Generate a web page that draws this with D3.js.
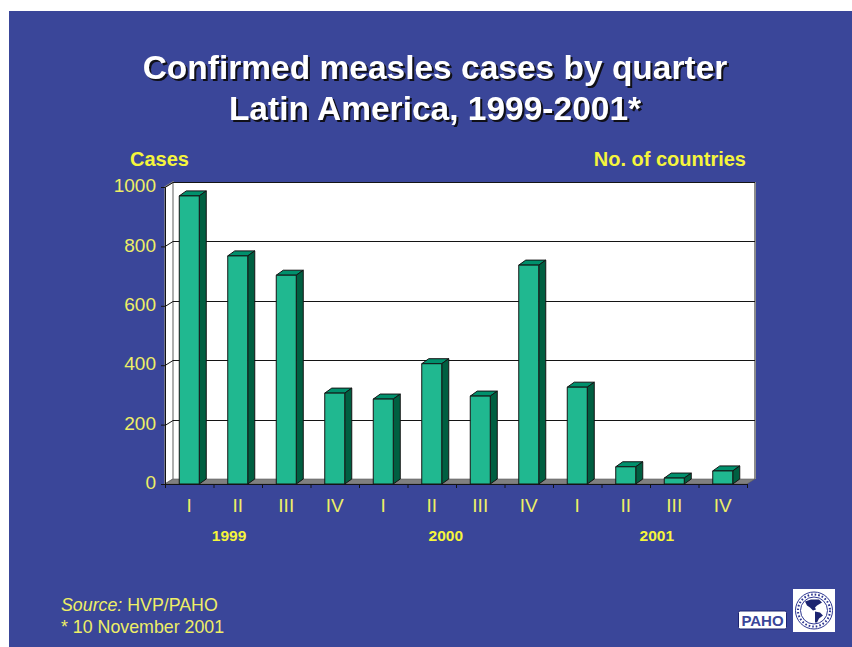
<!DOCTYPE html>
<html>
<head>
<meta charset="utf-8">
<script src="https://cdn.jsdelivr.net/npm/d3@7"></script>
<style>
  html, body { margin: 0; padding: 0; background: #fff; }
  svg { display: block; font-family: "Liberation Sans", Arial, sans-serif; }
</style>
</head>
<body>
<svg id="chart" width="852" height="647"></svg>
<script>
// Measles cases per quarter, read against the front of the value axis
const quarters = ["I", "II", "III", "IV", "I", "II", "III", "IV", "I", "II", "III", "IV"];
const cases = [970, 768, 703, 306, 286, 405, 296, 737, 326, 58, 20, 44];
const yearLabels = ["1999", "2000", "2001"];
const yearCentres = [1.32, 5.79, 10.14];
const valueTicks = [0, 200, 400, 600, 800, 1000];
const titleLines = ["Confirmed measles cases by quarter", "Latin America, 1999-2001*"];

const BG = "#3a4699", YELLOW = "#f5f53c", TICK_YELLOW = "#eeee66";
const FRONT = "#20b890", TOP = "#00906c", SIDE = "#005f41", INK = "#141414";

const svg = d3.select("#chart");

// Slide background
svg.append("rect").attr("x", 9).attr("y", 11).attr("width", 843).attr("height", 636).attr("fill", BG);

const x = d3.scaleBand().domain(d3.range(quarters.length)).range([165, 747]).paddingInner(0).paddingOuter(0);
const y = d3.scaleLinear().domain([0, 1000]).range([484, 187]);

// Depth of the pseudo-3D box and of the bars
const wallDx = 8, wallDy = -5, barDx = 7, barDy = -5;
const barWidth = 20;
const poly = pts => pts.map(p => p.join(",")).join(" ");

const x0 = x.range()[0], x1 = x.range()[1], y0 = y(0), yTop = y(1000);

// Back wall, side wall, floor
svg.append("rect")
  .attr("x", x0 + wallDx).attr("y", yTop + wallDy)
  .attr("width", x1 - x0).attr("height", y0 - yTop)
  .attr("fill", "#fff");
svg.append("polygon")
  .attr("points", poly([[x0, y0], [x0, yTop], [x0 + wallDx, yTop + wallDy], [x0 + wallDx, y0 + wallDy]]))
  .attr("fill", "#fff").attr("stroke", "#8c8c8c").attr("stroke-width", 1.4);
svg.append("polyline")
  .attr("points", poly([[x1 + wallDx, y0 + wallDy], [x1 + wallDx, yTop + wallDy]]))
  .attr("fill", "none").attr("stroke", "#8c8c8c").attr("stroke-width", 2);
svg.append("polygon")
  .attr("points", poly([[x0, y0], [x0 + wallDx, y0 + wallDy], [x1 + wallDx, y0 + wallDy], [x1, y0]]))
  .attr("fill", "#808080").attr("stroke", "#5a5a5a").attr("stroke-width", 0.6);

// Gridlines run along the back wall and fold down the side wall to the axis
const grid = svg.append("g").attr("fill", "none").attr("stroke", INK).attr("stroke-width", 1);
valueTicks.filter(v => v > 0).forEach(v => {
  const py = Math.round(y(v)) + 0.5;
  grid.append("polyline")
    .attr("points", poly([[x0, py], [x0 + wallDx, py + wallDy], [x1 + wallDx, py + wallDy]]));
});

// Value axis
const yAxis = d3.axisLeft(y).tickValues(valueTicks).tickSize(4).tickPadding(5).tickFormat(d3.format("d"));
const yG = svg.append("g").attr("transform", `translate(${x0},0)`).call(yAxis);
yG.select(".domain").attr("stroke", INK);
yG.selectAll(".tick line").attr("stroke", INK);
yG.selectAll(".tick text")
  .attr("fill", TICK_YELLOW).attr("font-size", 19).attr("dy", "0.25em")
  .attr("font-family", "Liberation Sans, Arial, sans-serif");

// Quarter axis: ticks sit on the band edges, labels in the band centres
const edgeScale = d3.scaleLinear().domain([0, quarters.length]).range(x.range());
const xAxis = d3.axisBottom(edgeScale).tickValues(d3.range(quarters.length + 1)).tickSize(4).tickFormat("");
const xG = svg.append("g").attr("transform", `translate(0,${y0})`).call(xAxis);
xG.select(".domain").attr("stroke", INK);
xG.selectAll(".tick line").attr("stroke", INK);

svg.append("g").selectAll("text").data(quarters).join("text")
  .attr("x", (d, i) => x(i) + x.bandwidth() / 2)
  .attr("y", 512)
  .attr("text-anchor", "middle")
  .attr("font-size", 19)
  .attr("fill", TICK_YELLOW)
  .text(d => d);

// Bars: top and side faces behind a front face
const bars = svg.append("g").attr("stroke", INK).attr("stroke-width", 1).attr("stroke-linejoin", "round")
  .selectAll("g").data(cases).join("g");
const left = i => x(i) + (x.bandwidth() - barWidth) / 2;

bars.append("polygon").attr("fill", TOP)
  .attr("points", (d, i) => poly([
    [left(i), y(d)], [left(i) + barDx, y(d) + barDy],
    [left(i) + barWidth + barDx, y(d) + barDy], [left(i) + barWidth, y(d)]
  ]));
bars.append("polygon").attr("fill", SIDE)
  .attr("points", (d, i) => poly([
    [left(i) + barWidth, y(d)], [left(i) + barWidth + barDx, y(d) + barDy],
    [left(i) + barWidth + barDx, y0 + barDy], [left(i) + barWidth, y0]
  ]));
bars.append("rect").attr("fill", FRONT)
  .attr("x", (d, i) => left(i)).attr("y", d => y(d))
  .attr("width", barWidth).attr("height", d => y0 - y(d));

// Title
svg.append("g").style("filter", "drop-shadow(2px 2px 0 #101018)")
  .selectAll("text").data(titleLines).join("text")
  .attr("x", 435)
  .attr("y", (d, i) => 79 + i * 41)
  .attr("text-anchor", "middle")
  .attr("font-size", 33.5)
  .attr("font-weight", "bold")
  .attr("fill", "#fff")
  .text(d => d);

// Axis captions
svg.append("text").attr("x", 130).attr("y", 166).attr("font-size", 20).attr("font-weight", "bold")
  .attr("fill", YELLOW).text("Cases");
svg.append("text").attr("x", 746).attr("y", 166).attr("text-anchor", "end").attr("font-size", 20)
  .attr("font-weight", "bold").attr("fill", YELLOW).text("No. of countries");

// Year captions under the quarters
svg.append("g").selectAll("text").data(yearLabels).join("text")
  .attr("x", (d, i) => x0 + yearCentres[i] * x.step())
  .attr("y", 541)
  .attr("text-anchor", "middle")
  .attr("font-size", 15.5)
  .attr("font-weight", "bold")
  .attr("fill", YELLOW)
  .text(d => d);

// Source note
const note = svg.append("text").attr("x", 61).attr("y", 611).attr("font-size", 17.8).attr("fill", TICK_YELLOW);
note.append("tspan").attr("font-style", "italic").text("Source:");
note.append("tspan").text(" HVP/PAHO");
svg.append("text").attr("x", 61).attr("y", 633).attr("font-size", 17.8).attr("fill", TICK_YELLOW).text("* 10 November 2001");

// Organisation badge and emblem
svg.append("rect").attr("x", 738.5).attr("y", 611).attr("width", 48).attr("height", 18).attr("rx", 1.5)
  .attr("fill", "#fff").attr("stroke", "#1c2470");
svg.append("text").attr("x", 762.5).attr("y", 625.5).attr("text-anchor", "middle").attr("font-size", 15)
  .attr("font-weight", "bold").attr("fill", "#3a4699").text("PAHO");

const emblem = svg.append("g").attr("transform", "translate(814,610.5)");
emblem.append("rect").attr("x", -21).attr("y", -21.5).attr("width", 42).attr("height", 43).attr("fill", "#fff");
emblem.append("circle").attr("r", 18.5).attr("fill", "none").attr("stroke", "#2c3590").attr("stroke-width", 1);
emblem.append("circle").attr("r", 16).attr("fill", "none").attr("stroke", "#2c3590").attr("stroke-width", 2)
  .attr("stroke-dasharray", "1.6 2");
emblem.append("circle").attr("r", 13.5).attr("fill", "#fff").attr("stroke", "#2c3590").attr("stroke-width", 1);
emblem.append("path").attr("fill", "#1c2470")
  .attr("d", "M-9,-9 L-3,-11 L5,-11 L8,-8 L3,-5 L1,-3 L2,-1 L-1,0 L-4,-3 L-7,-5 Z M1,1 L6,2 L9,5 L5,8 L3,12 L1,12 L1,7 Z");
</script>
</body>
</html>
